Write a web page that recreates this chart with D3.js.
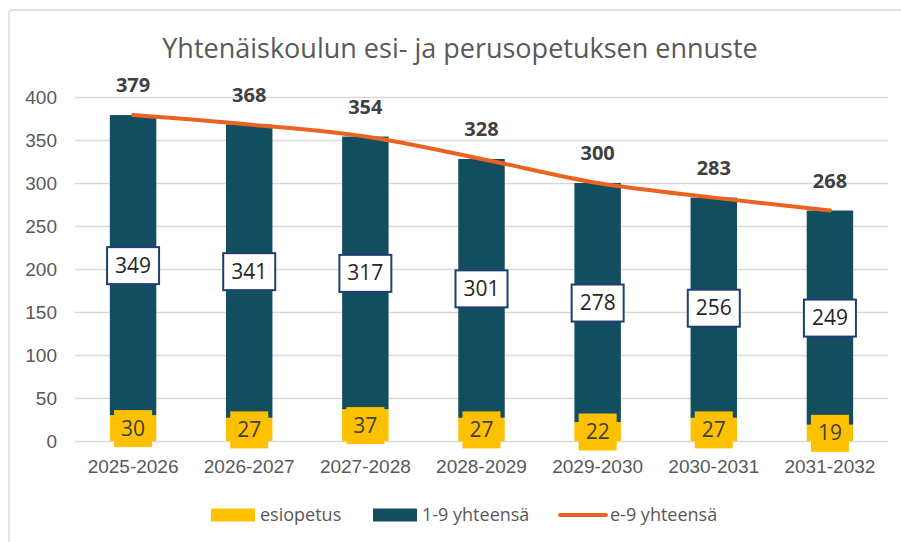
<!DOCTYPE html>
<html>
<head>
<meta charset="utf-8">
<title>Yhtenäiskoulun ennuste</title>
<style>
  body { margin: 0; background: #fff; }
  svg { font-family: "Open Sans", sans-serif; }
  .axis path { display: none; }
  .y.axis line { stroke: #d9d9d9; stroke-width: 1.5; }
  .axis text { fill: #595959; font-size: 19px; }
</style>
</head>
<body>
<script src="https://cdnjs.cloudflare.com/ajax/libs/d3/7.8.5/d3.min.js"></script>
<script>
var categories = ["2025-2026", "2026-2027", "2027-2028", "2028-2029", "2029-2030", "2030-2031", "2031-2032"];
var esiopetus = [30, 27, 37, 27, 22, 27, 19];
var perus = [349, 341, 317, 301, 278, 256, 249];
var yhteensa = [379, 368, 354, 328, 300, 283, 268];
var yTicks = [0, 50, 100, 150, 200, 250, 300, 350, 400];
var legendNames = ["esiopetus", "1-9 yhteensä", "e-9 yhteensä"];

var w = 901, h = 542;
var plotLeft = 75, plotRight = 888, plotTop = 97, plotBottom = 441;

var cYellow = "#ffc000", cTeal = "#124e60", cOrange = "#ea6320", cText = "#595959";

var svg = d3.select("body").append("svg")
    .attr("width", w)
    .attr("height", h);

// chart frame
svg.append("rect")
    .attr("x", 9).attr("y", 10)
    .attr("width", 900).attr("height", 540)
    .attr("rx", 3)
    .attr("fill", "none")
    .attr("stroke", "#d9d9d9")
    .attr("stroke-width", 1.5);

svg.append("text")
    .attr("x", 460).attr("y", 58)
    .attr("text-anchor", "middle")
    .attr("fill", cText)
    .style("font-size", "27px")
    .text("Yhtenäiskoulun esi- ja perusopetuksen  ennuste");

var x = d3.scaleBand()
    .domain(categories)
    .range([plotLeft, plotRight])
    .paddingInner(0.6)
    .paddingOuter(0.3);

var y = d3.scaleLinear()
    .domain([0, 400])
    .range([plotBottom, plotTop]);

svg.append("g")
    .attr("class", "y axis")
    .attr("transform", "translate(" + plotLeft + ",0)")
    .call(d3.axisLeft(y).tickValues(yTicks).tickSize(-(plotRight - plotLeft)).tickPadding(18));

svg.append("g")
    .attr("class", "x axis")
    .attr("transform", "translate(0," + plotBottom + ")")
    .call(d3.axisBottom(x).tickSize(0).tickPadding(19));

var rows = categories.map(function(c, i) {
    return { cat: c, e: esiopetus[i], p: perus[i], t: yhteensa[i] };
});

// stacked bars
svg.append("g").selectAll("rect")
    .data(rows).enter().append("rect")
    .attr("x", function(d) { return x(d.cat); })
    .attr("width", x.bandwidth())
    .attr("y", function(d) { return y(d.e); })
    .attr("height", function(d) { return y(0) - y(d.e); })
    .attr("fill", cYellow);

svg.append("g").selectAll("rect")
    .data(rows).enter().append("rect")
    .attr("x", function(d) { return x(d.cat); })
    .attr("width", x.bandwidth())
    .attr("y", function(d) { return y(d.e + d.p); })
    .attr("height", function(d) { return y(d.e) - y(d.e + d.p); })
    .attr("fill", cTeal);

// total line
var line = d3.line()
    .x(function(d) { return x(d.cat) + x.bandwidth() / 2; })
    .y(function(d) { return y(d.t); })
    .curve(d3.curveCatmullRom.alpha(0.5));

svg.append("path")
    .datum(rows)
    .attr("d", line)
    .attr("fill", "none")
    .attr("stroke", cOrange)
    .attr("stroke-width", 4)
    .attr("stroke-linecap", "round");

// labels for 1-9 (white boxes)
var mid = svg.append("g").selectAll("g")
    .data(rows).enter().append("g")
    .attr("transform", function(d) {
        return "translate(" + (x(d.cat) + x.bandwidth() / 2) + "," + y(d.e + d.p / 2) + ")";
    });
mid.append("rect")
    .attr("x", -26).attr("y", -18)
    .attr("width", 52).attr("height", 37)
    .attr("fill", "#fff")
    .attr("stroke", "#1f3f73")
    .attr("stroke-width", 2);
mid.append("text")
    .attr("text-anchor", "middle")
    .attr("dy", "0.36em")
    .attr("fill", "#262626")
    .style("font-size", "21px")
    .text(function(d) { return d.p; });

// labels for esiopetus (yellow boxes)
var low = svg.append("g").selectAll("g")
    .data(rows).enter().append("g")
    .attr("transform", function(d) {
        return "translate(" + (x(d.cat) + x.bandwidth() / 2) + "," + y(d.e / 2) + ")";
    });
low.append("rect")
    .attr("x", -19).attr("y", -18)
    .attr("width", 38).attr("height", 37)
    .attr("fill", cYellow);
low.append("text")
    .attr("text-anchor", "middle")
    .attr("dy", "0.36em")
    .attr("fill", "#404040")
    .style("font-size", "21px")
    .text(function(d) { return d.e; });

// total labels
svg.append("g").selectAll("text")
    .data(rows).enter().append("text")
    .attr("x", function(d) { return x(d.cat) + x.bandwidth() / 2; })
    .attr("y", function(d) { return y(d.t) - 30; })
    .attr("dy", "0.36em")
    .attr("text-anchor", "middle")
    .attr("fill", "#404040")
    .style("font-size", "20px")
    .style("font-weight", "bold")
    .text(function(d) { return d.t; });

// legend
var legendX = [211, 373, 558];
var lg = svg.append("g").selectAll("g")
    .data(legendNames).enter().append("g")
    .attr("transform", function(d, i) { return "translate(" + legendX[i] + ",515)"; });
lg.each(function(d, i) {
    var g = d3.select(this);
    if (i < 2) {
        g.append("rect")
            .attr("x", 0).attr("y", -6.5)
            .attr("width", 44).attr("height", 13)
            .attr("fill", i === 0 ? cYellow : cTeal);
    } else {
        g.append("line")
            .attr("x1", 2).attr("x2", 48)
            .attr("stroke", cOrange)
            .attr("stroke-width", 4)
            .attr("stroke-linecap", "round");
    }
    g.append("text")
        .attr("x", i < 2 ? 49 : 52)
        .attr("dy", "0.36em")
        .attr("fill", cText)
        .style("font-size", "18px")
        .text(d);
});
</script>
</body>
</html>
